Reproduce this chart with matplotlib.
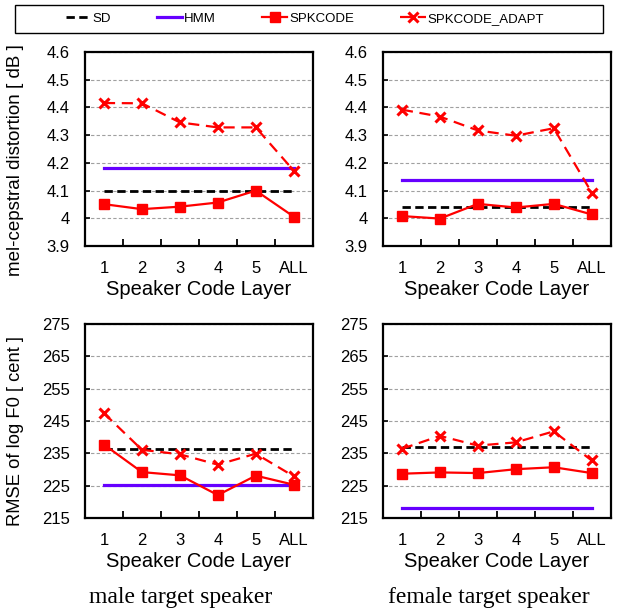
import matplotlib
matplotlib.use("Agg")
import matplotlib.pyplot as plt
from matplotlib.ticker import FixedLocator, FormatStrFormatter
from matplotlib.patches import Rectangle
import numpy as np

categories = ["1", "2", "3", "4", "5", "ALL"]

# mel-cepstral distortion [dB]
male_mcd_sd = 4.10
male_mcd_hmm = 4.18
male_mcd_spk = [4.051, 4.033, 4.042, 4.057, 4.100, 4.006]
male_mcd_adapt = [4.416, 4.415, 4.346, 4.328, 4.328, 4.172]

female_mcd_sd = 4.04
female_mcd_hmm = 4.14
female_mcd_spk = [4.008, 3.999, 4.052, 4.039, 4.052, 4.014]
female_mcd_adapt = [4.392, 4.367, 4.317, 4.298, 4.325, 4.093]

# RMSE of log F0 [cent]
male_f0_sd = 236.3
male_f0_hmm = 225.3
male_f0_spk = [237.7, 229.2, 228.2, 222.1, 228.1, 225.3]
male_f0_adapt = [247.4, 236.1, 234.7, 231.5, 234.9, 227.9]

female_f0_sd = 237.0
female_f0_hmm = 218.1
female_f0_spk = [228.7, 229.1, 228.9, 230.1, 230.7, 228.9]
female_f0_adapt = [236.4, 240.4, 237.4, 238.4, 241.8, 232.8]

mcd_ticks = [3.9, 4.0, 4.1, 4.2, 4.3, 4.4, 4.5, 4.6]
f0_ticks = [215, 225, 235, 245, 255, 265, 275]

captions = ["male target speaker", "female target speaker"]
series_names = ["SD", "HMM", "SPKCODE", "SPKCODE_ADAPT"]

RED = "#ff0000"
PURPLE = "#6600ff"

plt.rcParams["font.family"] = ["Liberation Sans", "DejaVu Sans"]

fig = plt.figure(figsize=(6.17, 6.10), dpi=100)

W = 0.369
H = 0.318
positions = [
    [0.1378, 0.5967, W, H],
    [0.6207, 0.5967, W, H],
    [0.1378, 0.1508, W, H],
    [0.6207, 0.1508, W, H],
]

panels = [
    (male_mcd_sd, male_mcd_hmm, male_mcd_spk, male_mcd_adapt, mcd_ticks,
     ("mel-cepstral distortion [ dB ]", 13.5, 0.443)),
    (female_mcd_sd, female_mcd_hmm, female_mcd_spk, female_mcd_adapt, mcd_ticks, None),
    (male_f0_sd, male_f0_hmm, male_f0_spk, male_f0_adapt, f0_ticks,
     ("RMSE of log F0 [ cent ]", 13.2, 0.450)),
    (female_f0_sd, female_f0_hmm, female_f0_spk, female_f0_adapt, f0_ticks, None),
]

x = np.arange(len(categories))
handles = None
axes = []
for pos, (sd, hmm, spk, adapt, yt, ylab) in zip(positions, panels):
    ax = fig.add_axes(pos)
    axes.append(ax)
    h1, = ax.plot([x[0], x[-1]], [sd, sd], color="black", lw=2.0, ls=(0, (3, 1.6)), zorder=3)
    h2, = ax.plot([x[0], x[-1]], [hmm, hmm], color=PURPLE, lw=2.3, zorder=3)
    h3, = ax.plot(x, spk, color=RED, lw=1.6, marker="s", markersize=7, zorder=4)
    h4, = ax.plot(x, adapt, color=RED, lw=1.6, ls=(0, (5, 3)), marker="x",
                  markersize=7, markeredgewidth=2.2, zorder=4)
    handles = [h1, h2, h3, h4]
    ax.set_xlim(-0.5, len(categories) - 0.5)
    ax.set_ylim(yt[0], yt[-1])
    ax.set_xticks(x)
    ax.set_xticklabels(categories)
    ax.xaxis.set_minor_locator(FixedLocator(x[:-1] + 0.5))
    ax.tick_params(axis="x", which="major", length=0, labelsize=12, pad=10.5)
    ax.tick_params(axis="x", which="minor", direction="in", length=5, width=1.3, top=False)
    ax.set_yticks(yt)
    ax.yaxis.set_major_formatter(FormatStrFormatter("%g"))
    ax.tick_params(axis="y", direction="in", length=3.5, width=1.2, labelsize=12, pad=11)
    ax.grid(axis="y", color="#a0a0a0", ls=(0, (3, 2)), lw=0.8, zorder=1)
    for s in ax.spines.values():
        s.set_linewidth(1.6)
        s.set_zorder(5)
    ax.set_xlabel("Speaker Code Layer", fontsize=14.5, labelpad=3.5)
    if ylab:
        ax.set_ylabel(ylab[0], fontsize=ylab[1])
        ax.yaxis.set_label_coords(-0.267, ylab[2])

caption_x = [0.2934, 0.7925]
for cx, cap in zip(caption_x, captions):
    fig.text(cx, 0.0213, cap, ha="center", va="center",
             fontsize=17, family=["Liberation Serif", "DejaVu Serif"])

leg = fig.legend(handles, series_names, loc="center",
                 bbox_to_anchor=(0.494, 0.969), ncol=4, fontsize=9.5,
                 handlelength=1.9, handletextpad=0.15, columnspacing=3.5,
                 frameon=False, borderaxespad=0)
fig.patches.append(Rectangle((15 / 617, 1 - 33 / 610), 588 / 617, 28 / 610,
                             transform=fig.transFigure, fill=False,
                             edgecolor="black", lw=1.0))

fig.savefig("out.png", dpi=100)
